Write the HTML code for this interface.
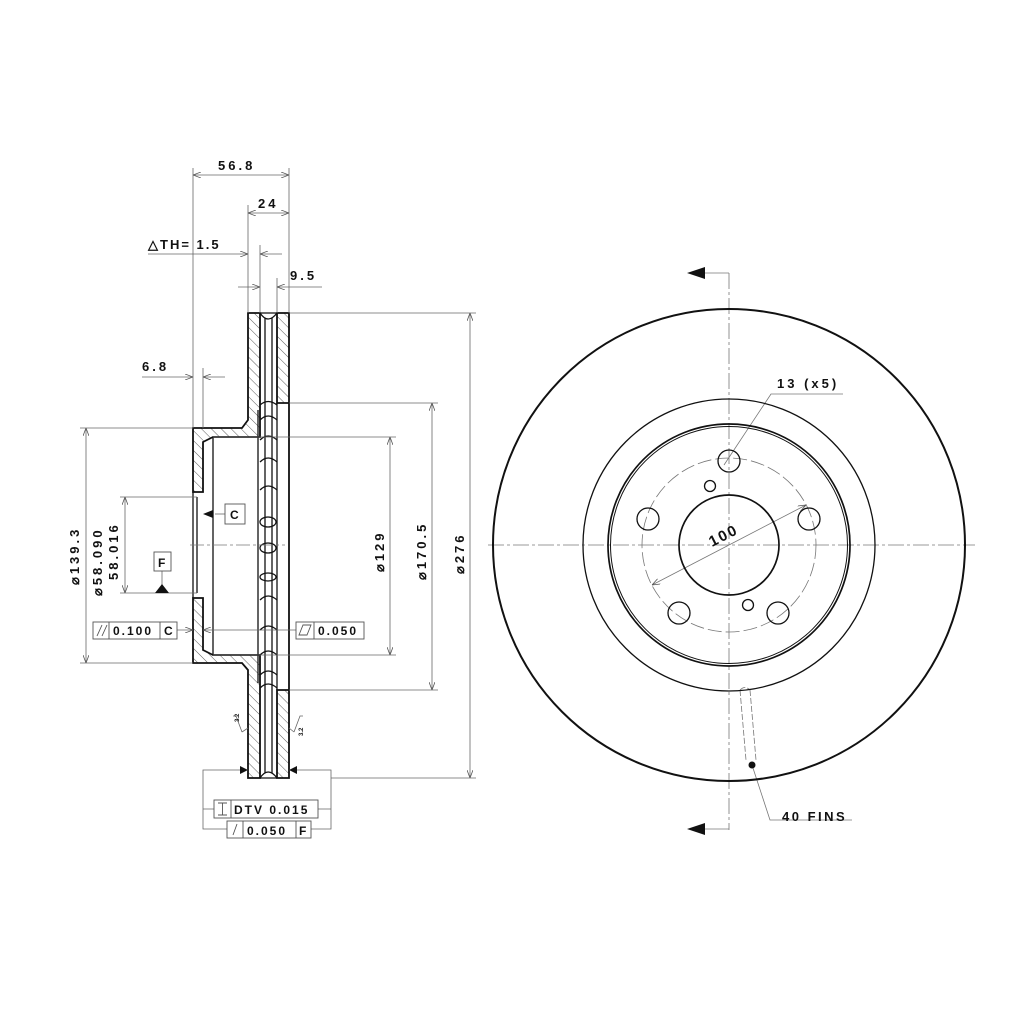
<!DOCTYPE html>
<html><head><meta charset="utf-8"><style>
html,body{margin:0;padding:0;background:#fff}
svg{display:block}
text{font-family:"Liberation Sans",sans-serif;font-weight:bold;fill:#111}
</style></head><body>
<svg width="1024" height="1024" viewBox="0 0 1024 1024" xmlns="http://www.w3.org/2000/svg">
<defs>
<pattern id="h" width="7" height="7" patternUnits="userSpaceOnUse" patternTransform="rotate(-45)">
<line x1="0" y1="0" x2="0" y2="7" stroke="#333" stroke-width="0.8"/>
</pattern>
<marker id="a" markerWidth="8" markerHeight="6" refX="8" refY="3" orient="auto" markerUnits="userSpaceOnUse"><path d="M0,0 L8,3 L0,6" fill="none" stroke="#555" stroke-width="0.8"/></marker>
</defs>

<g stroke="#111" stroke-width="1.8" fill="url(#h)">
<path d="M248,313 L260,313 L260,437 L213,437 L203,442 L203,492 L193,492 L193,428 L242,428 L248,420 Z"/>
<path d="M248,778 L260,778 L260,655 L213,655 L203,650 L203,598 L193,598 L193,663 L242,663 L248,670 Z"/>
<path d="M277,313 L289,313 L289,403 L277,403 Z"/>
<path d="M277,690 L289,690 L289,778 L277,778 Z"/>
</g>
<g stroke="#111" stroke-width="1.3" fill="none">
<line x1="193" y1="492" x2="193" y2="598"/>
<line x1="197" y1="497" x2="197" y2="593"/>
<line x1="213" y1="437" x2="213" y2="655"/>
<line x1="260" y1="313" x2="277" y2="313"/>
<line x1="260" y1="778" x2="277" y2="778"/>
<path d="M260,313 Q268,325 277,313"/>
<path d="M260,778 Q268,766 277,778"/>
<line x1="265" y1="318" x2="265" y2="773"/>
<line x1="272" y1="318" x2="272" y2="773"/>
<line x1="289" y1="403" x2="289" y2="690" stroke-width="1.8"/>
<line x1="277" y1="403" x2="277" y2="690"/>
<line x1="258" y1="410" x2="258" y2="683"/>
<path d="M260,405 Q268,398 277,405 M260,420 Q268,412 277,420 M260,440 Q268,432 277,440 M260,462 Q268,454 277,462 M260,490 Q268,482 277,490 M260,600 Q268,592 277,600 M260,630 Q268,622 277,630 M260,655 Q268,647 277,655 M260,675 Q268,667 277,675 M260,688 Q268,680 277,688"/>
<ellipse cx="268" cy="522" rx="8" ry="5"/>
<ellipse cx="268" cy="548" rx="8" ry="5"/>
<ellipse cx="268" cy="577" rx="8" ry="4"/>
</g>
<line x1="190" y1="545" x2="285" y2="545" stroke="#777" stroke-width="0.8" stroke-dasharray="14,3,3,3"/>

<g stroke="#666" stroke-width="0.8" fill="none">
<line x1="193" y1="168" x2="193" y2="428"/>
<line x1="289" y1="168" x2="289" y2="313"/>
<line x1="248" y1="205" x2="248" y2="313"/>
<line x1="260" y1="245" x2="260" y2="313"/>
<line x1="277" y1="278" x2="277" y2="313"/>
<line x1="203" y1="368" x2="203" y2="428"/>
<line x1="241" y1="175" x2="193" y2="175" marker-end="url(#a)"/>
<line x1="241" y1="175" x2="289" y2="175" marker-end="url(#a)"/>
<line x1="268" y1="213" x2="248" y2="213" marker-end="url(#a)"/>
<line x1="268" y1="213" x2="289" y2="213" marker-end="url(#a)"/>
<line x1="148" y1="254" x2="248" y2="254" marker-end="url(#a)"/>
<line x1="282" y1="254" x2="260" y2="254" marker-end="url(#a)"/>
<line x1="238" y1="287" x2="260" y2="287" marker-end="url(#a)"/>
<line x1="322" y1="287" x2="277" y2="287" marker-end="url(#a)"/>
<line x1="142" y1="377" x2="193" y2="377" marker-end="url(#a)"/>
<line x1="225" y1="377" x2="203" y2="377" marker-end="url(#a)"/>
<line x1="80" y1="428" x2="193" y2="428"/>
<line x1="80" y1="663" x2="193" y2="663"/>
<line x1="86" y1="545" x2="86" y2="428" marker-end="url(#a)"/>
<line x1="86" y1="545" x2="86" y2="663" marker-end="url(#a)"/>
<line x1="120" y1="497" x2="197" y2="497"/>
<line x1="120" y1="593" x2="197" y2="593"/>
<line x1="125" y1="545" x2="125" y2="497" marker-end="url(#a)"/>
<line x1="125" y1="545" x2="125" y2="593" marker-end="url(#a)"/>
<line x1="213" y1="437" x2="396" y2="437"/>
<line x1="213" y1="655" x2="396" y2="655"/>
<line x1="390" y1="545" x2="390" y2="437" marker-end="url(#a)"/>
<line x1="390" y1="545" x2="390" y2="655" marker-end="url(#a)"/>
<line x1="289" y1="403" x2="438" y2="403"/>
<line x1="289" y1="690" x2="438" y2="690"/>
<line x1="432" y1="545" x2="432" y2="403" marker-end="url(#a)"/>
<line x1="432" y1="545" x2="432" y2="690" marker-end="url(#a)"/>
<line x1="289" y1="313" x2="476" y2="313"/>
<line x1="331" y1="778" x2="476" y2="778"/>
<line x1="470" y1="545" x2="470" y2="313" marker-end="url(#a)"/>
<line x1="470" y1="545" x2="470" y2="778" marker-end="url(#a)"/>
<line x1="176" y1="630" x2="193" y2="630" marker-end="url(#a)"/>
<line x1="296" y1="630" x2="203" y2="630" marker-end="url(#a)"/>
<line x1="215" y1="514" x2="225" y2="514"/>
<line x1="162" y1="571" x2="162" y2="586"/>
<path d="M248,770 L203,770 L203,829 L227,829 M203,809 L214,809"/>
<path d="M289,770 L331,770 L331,829 L311,829 M331,809 L318,809"/>
<path d="M242,732 L236,716 L233,716 M242,732 L248,728"/>
<path d="M294,732 L300,716 L303,716 M294,732 L289,728"/>
</g>
<g fill="#111">
<path d="M203,514 L213,510 L213,518 Z"/>
<path d="M155,593 L162,584 L169,593 Z"/>
<path d="M248,770 L240,766 L240,774 Z"/>
<path d="M289,770 L297,766 L297,774 Z"/>
</g>
<g fill="#fff" stroke="#555" stroke-width="0.9">
<rect x="225" y="504" width="20" height="20"/>
<rect x="154" y="552" width="17" height="19"/>
<rect x="93" y="622" width="84" height="17"/>
<rect x="296" y="622" width="68" height="17"/>
<rect x="214" y="800" width="104" height="18"/>
<rect x="227" y="821" width="84" height="17"/>
</g>
<g stroke="#555" stroke-width="0.9">
<line x1="109" y1="622" x2="109" y2="639"/><line x1="160" y1="622" x2="160" y2="639"/>
<line x1="314" y1="622" x2="314" y2="639"/>
<line x1="231" y1="800" x2="231" y2="818"/>
<line x1="243" y1="821" x2="243" y2="838"/><line x1="296" y1="821" x2="296" y2="838"/>
<path d="M97,636 L102,625 M102,636 L107,625"/>
<path d="M299,635 L303,625 L311,625 L307,635 Z" fill="none"/>
<path d="M218,803 L227,803 M222.5,803 L222.5,815 M218,815 L227,815"/>
<path d="M233,835 L237,824"/>
</g>
<g font-size="13">
<text x="218" y="170" letter-spacing="3">56.8</text>
<text x="258" y="208" letter-spacing="3">24</text>
<text x="148" y="249" letter-spacing="2" font-weight="normal">△<tspan font-weight="bold">TH= 1.5</tspan></text>
<text x="290" y="280" letter-spacing="3">9.5</text>
<text x="142" y="371" letter-spacing="3">6.8</text>
<text x="230" y="519" font-size="12">C</text>
<text x="158" y="567" font-size="12">F</text>
<text x="113" y="635" font-size="12" letter-spacing="2">0.100</text>
<text x="164" y="635" font-size="12">C</text>
<text x="318" y="635" font-size="12" letter-spacing="2">0.050</text>
<text x="234" y="814" font-size="12" letter-spacing="2">DTV 0.015</text>
<text x="247" y="835" font-size="12" letter-spacing="2">0.050</text>
<text x="299" y="835" font-size="12">F</text>
<text transform="translate(79,585) rotate(-90)" letter-spacing="3">⌀139.3</text>
<text transform="translate(102,596) rotate(-90)" letter-spacing="3">⌀58.090</text>
<text transform="translate(118,580) rotate(-90)" letter-spacing="3">58.016</text>
<text transform="translate(384,572) rotate(-90)" letter-spacing="3">⌀129</text>
<text transform="translate(426,580) rotate(-90)" letter-spacing="3">⌀170.5</text>
<text transform="translate(464,574) rotate(-90)" letter-spacing="3">⌀276</text>
<text transform="translate(239,722) rotate(-90)" font-size="6">3.2</text>
<text transform="translate(303,736) rotate(-90)" font-size="6">3.2</text>
</g>

<g stroke="#777" stroke-width="0.8" fill="none" stroke-dasharray="16,3,3,3">
<line x1="488" y1="545" x2="975" y2="545"/>
<line x1="729" y1="273" x2="729" y2="830"/>
</g>
<g stroke="#777" stroke-width="0.8" fill="none">
<line x1="700" y1="273" x2="729" y2="273"/>
<line x1="700" y1="829" x2="729" y2="829"/>
<circle cx="729" cy="545" r="87" stroke-dasharray="14,4"/>
<line x1="729" y1="545" x2="806" y2="505" marker-end="url(#a)"/>
<line x1="729" y1="545" x2="652" y2="585" marker-end="url(#a)"/>
<path d="M843,394 L771,394 L724,465"/>
<path d="M752,765 L770,820 L852,820"/>
<path d="M740,690 L746,760 M750,690 L756,760 M740,690 Q745,685 750,690" stroke-dasharray="6,2"/>
</g>
<path d="M687,273 L705,267 L705,279 Z" fill="#111"/>
<path d="M687,829 L705,823 L705,835 Z" fill="#111"/>
<g stroke="#111" stroke-width="1.7" fill="none">
<circle cx="729" cy="545" r="236" stroke-width="2"/>
<circle cx="729" cy="545" r="146" stroke-width="1.3"/>
<circle cx="729" cy="545" r="121"/>
<circle cx="729" cy="545" r="118.5" stroke-width="1"/>
<circle cx="729" cy="545" r="50"/>
<g stroke-width="1.3">
<circle cx="729" cy="461" r="11"/>
<circle cx="648" cy="519" r="11"/>
<circle cx="809" cy="519" r="11"/>
<circle cx="679" cy="613" r="11"/>
<circle cx="778" cy="613" r="11"/>
<circle cx="710" cy="486" r="5.5"/>
<circle cx="748" cy="605" r="5.5"/>
</g>
</g>
<circle cx="752" cy="765" r="3.5" fill="#111"/>
<g font-size="13">
<text x="777" y="388" letter-spacing="3">13 (x5)</text>
<text x="782" y="821" letter-spacing="2.5">40 FINS</text>
<text transform="translate(712,547) rotate(-27)" font-size="15" font-weight="normal" letter-spacing="2">100</text>
</g>
</svg>
</body></html>
